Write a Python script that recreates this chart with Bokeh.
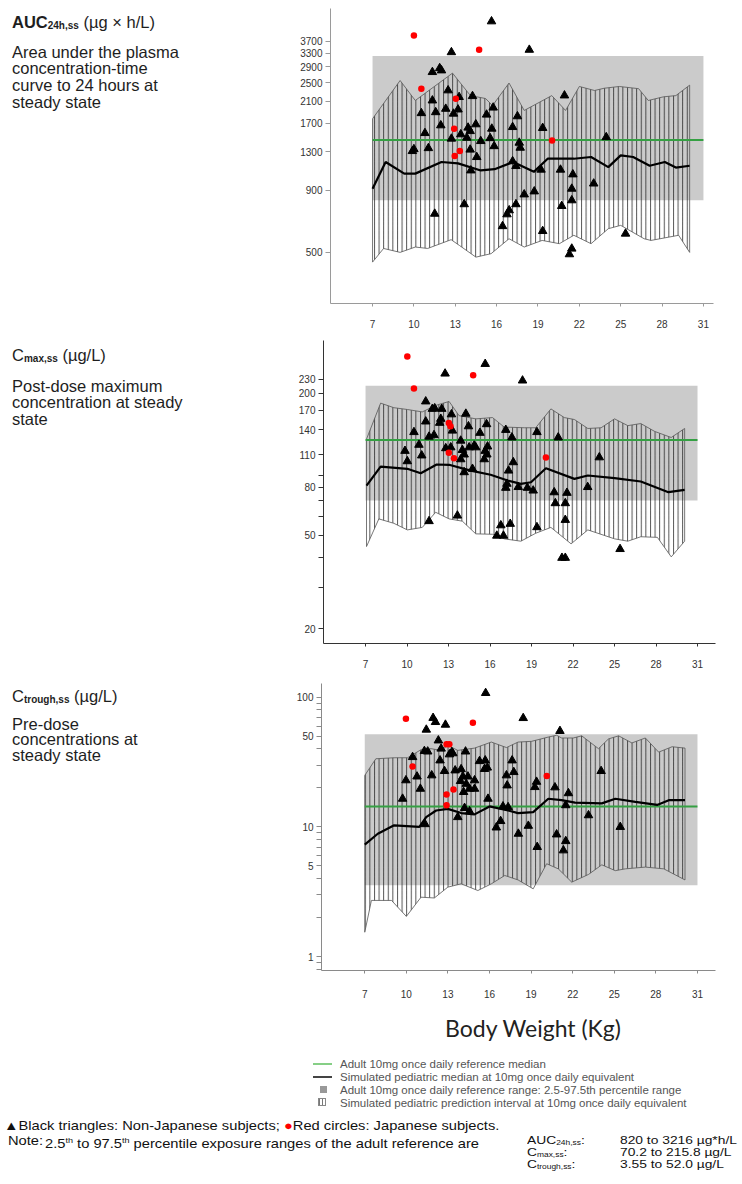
from bokeh.plotting import figure
from bokeh.models import FixedTicker, Div, Range1d, NumeralTickFormatter
from bokeh.layouts import column, row
from bokeh.embed import file_html
from bokeh.resources import INLINE

# ---------------- data ----------------
weight_ticks = [7, 10, 13, 16, 19, 22, 25, 28, 31]
band_x = [7, 31]
x_title = "Body Weight (Kg)"

# adult reference (2.5th, median, 97.5th)
auc_adult = [820, 1450, 3216]
cmax_adult = [70.2, 127, 215.8]
ctrough_adult = [3.55, 14.4, 52.0]

# AUC panel
auc_pi_upper_x = [7.0, 9.0, 10.1, 12.8, 14.1, 15.2, 15.7, 16.9, 18.0, 20.0, 21.0, 22.0, 23.1, 23.8, 24.9, 26.3, 27.0, 28.1, 29.0, 30.0]
auc_pi_upper = [1775, 2550, 2110, 2735, 2210, 2150, 2010, 2490, 1920, 2210, 1920, 2410, 2320, 2370, 2410, 2360, 2110, 2185, 2210, 2440]
auc_pi_lower_x = [7.0, 7.8, 9.0, 10.1, 11.0, 12.7, 13.3, 14.5, 15.6, 16.9, 18.0, 19.3, 20.55, 21.6, 22.85, 24.1, 25.0, 26.7, 27.2, 29.2, 30.0]
auc_pi_lower = [456, 519, 500, 526, 519, 564, 534, 478, 494, 569, 526, 560, 543, 588, 543, 626, 646, 569, 560, 588, 500]
auc_med_x = [7.0, 7.95, 9.3, 10.1, 12.0, 13.2, 14.85, 15.85, 17.2, 18.7, 19.7, 21.6, 22.85, 24.1, 25.0, 25.9, 27.1, 28.2, 29.0, 30.0]
auc_med = [914, 1178, 1055, 1055, 1178, 1163, 1087, 1100, 1178, 1073, 1215, 1215, 1235, 1122, 1254, 1235, 1137, 1178, 1117, 1137]
auc_tri_x = [15.63, 12.72, 18.37, 11.34, 11.87, 12.0, 12.48, 13.28, 14.25, 11.34, 10.54, 11.58, 12.31, 12.87, 13.2, 11.95, 10.8, 11.05, 9.89, 10.0,
             12.72, 13.4, 13.93, 14.08, 14.49, 13.84, 14.08, 14.56, 14.13, 14.85, 15.65, 15.53, 15.82, 15.27, 15.75, 17.51, 17.16, 17.64, 17.16, 17.4,
             19.22, 19.34, 20.92, 20.63, 21.53, 21.45, 21.45, 20.72, 23.04, 23.95, 25.35, 21.45, 21.28, 19.34, 18.73, 18.0, 17.4, 16.91, 16.75, 16.43,
             13.65, 11.51, 17.71]
auc_tri_y = [4467, 3334, 3412, 2762, 2866, 2806, 2322, 2180, 2199, 2110, 1871, 1888, 1950, 1862, 1937, 1667, 1549, 1343, 1306, 1330,
             1469, 1531, 1631, 1578, 1683, 1482, 1324, 1234, 1087, 1436, 1615, 1476, 1368, 1845, 1972, 1816, 1640, 1414, 1186, 1133,
             1095, 1626, 2213, 1095, 1047, 914, 819, 776, 960, 1490, 597, 518, 491, 612, 891, 866, 789, 745, 717, 641,
             789, 721, 1348]
auc_red_x = [10.0, 14.73, 10.54, 13.04, 12.92, 13.33, 12.96, 20.02]
auc_red_y = [3908, 3412, 2360, 2145, 1615, 1306, 1246, 1445]

# Cmax panel
cmax_pi_upper_x = [7.07, 8.09, 9.05, 10.02, 11.1, 12.07, 13.04, 13.76, 14.97, 16.18, 17.02, 18.47, 19.3, 20.4, 21.37, 22.1, 23.07, 24.03, 25.0, 25.96, 26.9, 27.9, 29.1, 30.07]
cmax_pi_upper = [128, 182, 174, 171, 167, 178, 185, 161, 156, 158, 144, 143, 143, 172, 158, 155, 142, 143, 156, 146, 149, 138, 130, 142]
cmax_pi_lower_x = [7.07, 7.96, 9.05, 10.02, 11.1, 12.07, 13.04, 14.0, 14.97, 16.18, 17.02, 18.23, 19.3, 20.4, 21.86, 23.07, 25.0, 25.96, 26.9, 28.1, 29.1, 30.07]
cmax_pi_lower = [44.7, 58.6, 56.1, 52.6, 53.9, 62.5, 58.6, 57.3, 50.6, 50.4, 48.2, 47.1, 50.9, 53.9, 45.9, 52.6, 48.2, 47.1, 49.2, 48.9, 40.4, 47.1]
cmax_med_x = [7.07, 8.09, 10.02, 10.99, 12.14, 13.04, 14.6, 16.04, 17.27, 18.23, 18.96, 20.04, 22.1, 23.07, 25.0, 26.9, 28.9, 30.07]
cmax_med = [81.1, 97.7, 95.7, 91.6, 99.8, 99.5, 94, 90.3, 85.3, 82.6, 83.9, 96.2, 86.7, 89.6, 87.4, 84.5, 76.1, 77.8]
cmax_tri_x = [15.65, 12.75, 18.35, 11.35, 11.83, 12.0, 12.51, 12.44, 11.35, 13.21, 14.25, 13.28, 12.36, 14.44, 15.27, 15.75, 17.14, 17.58, 19.39, 20.93,
              10.5, 10.86, 9.85, 11.06, 10.02, 11.59, 11.95, 12.8, 13.16, 13.88, 14.0, 14.13, 13.88, 14.13, 14.49, 14.85, 14.97, 14.73, 15.65, 15.82,
              15.58, 15.77, 17.68, 17.34, 17.22, 17.14, 18.04, 18.7, 19.12, 20.64, 21.56, 20.72, 21.44, 21.44, 23.06, 23.9, 19.39, 17.46, 16.78, 16.49,
              16.97, 13.64, 11.59, 21.2, 21.44, 25.4]
cmax_tri_y = [267, 243, 227, 185, 172, 173, 172, 156, 152, 163, 164, 139, 150, 145, 136, 148, 140, 130, 137, 130,
              137, 121, 114, 109, 103, 131, 133, 117, 118, 126, 115, 110, 105, 92.5, 118, 120, 118, 95.6, 114, 119,
              105, 110, 102, 94, 82.6, 79.4, 80, 79.4, 77.3, 76, 75.6, 68.3, 68.3, 58, 80, 107, 54, 55.8, 55, 49.7,
              49.7, 60.5, 57.3, 40, 40, 43.6]
cmax_red_x = [10.02, 10.5, 14.78, 13.02, 13.14, 13.02, 13.39, 20.04]
cmax_red_y = [287, 210, 239, 150, 145, 112, 106, 107]

# Ctrough panel
ctr_pi_upper_x = [7.0, 7.8, 9.12, 10.09, 11.06, 11.78, 12.5, 12.99, 13.71, 14.92, 16.13, 17.22, 18.06, 19.03, 20.24, 20.84, 21.2, 22.04, 22.65, 23.86, 24.58, 25.31, 26.27, 27.24, 28.2, 29.17, 30.1]
ctr_pi_upper = [25.0, 33.6, 34.2, 34.2, 39.5, 40.2, 39.0, 42.6, 39.0, 40.6, 45.2, 41.0, 45.2, 45.8, 49.4, 51.0, 48.6, 48.6, 50.5, 40.2, 47.8, 50.5, 44.5, 48.6, 37.8, 41.6, 40.6]
ctr_pi_lower_x = [7.0, 7.48, 8.93, 10.0, 11.06, 12.02, 12.99, 13.95, 15.16, 16.13, 17.1, 18.06, 19.15, 20.12, 20.96, 21.93, 23.14, 24.1, 25.07, 25.8, 27.24, 28.57, 30.1]
ctr_pi_lower = [1.54, 2.71, 2.71, 2.04, 2.87, 2.83, 3.43, 3.64, 3.23, 3.64, 4.22, 3.9, 3.33, 5.2, 4.75, 3.75, 4.3, 5.1, 4.6, 4.75, 4.9, 4.75, 3.9]
ctr_med_x = [7.0, 7.94, 9.12, 10.94, 11.43, 12.15, 12.99, 13.95, 14.92, 16.0, 17.34, 18.06, 19.15, 20.24, 21.2, 22.17, 24.1, 25.07, 26.52, 28.09, 28.93, 30.1]
ctr_med = [7.3, 8.86, 10.3, 10.0, 11.9, 13.4, 13.8, 12.8, 12.5, 14.4, 13.4, 12.8, 13.0, 16.5, 16.1, 15.4, 15.2, 16.5, 15.6, 14.8, 16.1, 16.1]
ctr_tri_x = [15.72, 18.43, 11.93, 12.1, 12.82, 11.44, 21.08, 12.31, 12.51, 11.3, 11.54, 10.45, 12.43, 13.11, 13.35, 14.27, 12.75, 11.83, 10.77, 11.01,
             9.97, 9.73, 13.52, 13.95, 14.08, 13.91, 14.44, 14.32, 14.56, 14.92, 14.13, 14.92, 15.28, 15.69, 15.84, 15.64, 15.89, 17.63, 17.75, 17.22,
             17.27, 17.34, 16.97, 14.2, 14.56, 13.71, 11.35, 16.8, 16.49, 18.8, 18.08, 19.44, 19.27, 19.39, 20.72, 21.69, 21.5, 20.84, 21.5, 21.33,
             23.14, 24.05, 25.43, 13.28]
ctr_tri_y = [108, 69.2, 69.4, 64.5, 61.5, 56.3, 55, 46.5, 40.2, 38.5, 38.2, 34.6, 32.6, 36.3, 37.0, 38.2, 27, 25, 24.5, 19.7,
             22.9, 16.5, 27.3, 27.9, 24.5, 22.6, 24.5, 21.5, 19.7, 19.7, 18.6, 22.9, 32.2, 32.6, 28.7, 28, 16.5, 32.6, 26.5, 25,
             20.9, 14.2, 14.4, 14.0, 13.2, 11.9, 10.5, 11.1, 9.9, 10.2, 8.86, 7.0, 20.3, 22.3, 20.2, 18.2, 14.7, 8.75, 7.77, 6.59,
             12.3, 27, 10.0, 37.8]
ctr_red_x = [9.97, 14.8, 12.9, 13.1, 10.45, 20.13, 13.4, 12.9, 12.9]
ctr_red_y = [68.4, 63.8, 43.4, 43.4, 29.3, 24.7, 19.5, 17.8, 14.7]

# axis ticks
auc_ticks = [500, 900, 1300, 1700, 2100, 2500, 2900, 3300, 3700]
cmax_ticks = [20, 50, 80, 110, 140, 170, 200, 230]
cmax_minor = [30, 40, 60, 70, 90]
ctr_ticks = [1, 5, 10, 50, 100]
ctr_minor = [0.8, 0.9, 2, 3, 4, 6, 7, 8, 9, 20, 30, 40, 60, 70, 80, 90]

FONT = "'Liberation Sans', Arial, sans-serif"
DIV_W = 270
TOTAL_W = 735


def make_panel(xr, yr, fw, fh, bl, bt, bb, ticks, minor, axis_color, adult,
               up_x, up, lo_x, lo, med_x, med, tx, ty, rx, ry, x_standoff=13):
    p = figure(frame_width=fw, frame_height=fh, min_border_left=bl, min_border_right=TOTAL_W - DIV_W - bl - fw,
               min_border_top=bt, min_border_bottom=bb,
               x_range=Range1d(*xr), y_range=Range1d(*yr), y_axis_type="log",
               output_backend="svg", toolbar_location=None)
    p.outline_line_color = None
    p.grid.visible = False
    p.background_fill_color = "white"
    p.border_fill_color = "white"

    # adult reference band
    p.quad(left=band_x[0], right=band_x[1], bottom=adult[0], top=adult[2],
           fill_color="#cbcbcb", line_color=None)
    # simulated prediction interval (hatched)
    p.patch(x=up_x + lo_x[::-1], y=up + lo[::-1], fill_color=None, fill_alpha=0,
            line_color="#555555", line_width=0.8,
            hatch_pattern="|", hatch_scale=4.6, hatch_weight=0.85, hatch_color="#1e1e1e", hatch_alpha=0.9)
    # adult median
    p.line(x=band_x, y=[adult[1], adult[1]], line_color="#35a043", line_width=2)
    # simulated median
    p.line(x=med_x, y=med, line_color="black", line_width=2.2)
    # observed subjects
    p.scatter(x=tx, y=ty, marker="triangle", size=8.5, fill_color="black", line_color="black")
    p.scatter(x=rx, y=ry, marker="circle", size=6.5, fill_color="#ff0000", line_color=None)

    xa = p.xaxis[0]
    xa.ticker = FixedTicker(ticks=weight_ticks)
    xa.axis_line_color = axis_color
    xa.major_tick_line_color = axis_color
    xa.minor_tick_line_color = None
    xa.major_tick_in = 0
    xa.major_tick_out = 3
    xa.major_label_standoff = x_standoff
    xa.major_label_text_font = "Liberation Sans"
    xa.major_label_text_font_size = "10px"
    xa.major_label_text_color = "#333333"

    ya = p.yaxis[0]
    ya.ticker = FixedTicker(ticks=ticks, minor_ticks=minor)
    ya.formatter = NumeralTickFormatter(format="0")
    ya.axis_line_color = axis_color
    ya.major_tick_line_color = axis_color
    ya.minor_tick_line_color = axis_color
    ya.major_tick_in = 0
    ya.major_tick_out = 5
    ya.minor_tick_in = 0
    ya.minor_tick_out = 5
    ya.major_label_standoff = 3
    ya.major_label_text_font = "Liberation Sans"
    ya.major_label_text_font_size = "10px"
    ya.major_label_text_color = "#333333"
    return p


p1 = make_panel((3.95, 31.73), (308, 5047), 383, 295, 60, 8, 37, auc_ticks, [], "#9a9a9a", auc_adult,
                auc_pi_upper_x, auc_pi_upper, auc_pi_lower_x, auc_pi_lower, auc_med_x, auc_med,
                auc_tri_x, auc_tri_y, auc_red_x, auc_red_y)
p2 = make_panel((3.96, 32.3), (17.3, 336), 392, 303, 53, 0, 40, cmax_ticks, cmax_minor, "#333333", cmax_adult,
                cmax_pi_upper_x, cmax_pi_upper, cmax_pi_lower_x, cmax_pi_lower, cmax_med_x, cmax_med,
                cmax_tri_x, cmax_tri_y, cmax_red_x, cmax_red_y)
p3 = make_panel((3.88, 32.3), (0.78, 128), 394, 287, 51, 0, 35, ctr_ticks, ctr_minor, "#8a8a8a", ctrough_adult,
                ctr_pi_upper_x, ctr_pi_upper, ctr_pi_lower_x, ctr_pi_lower, ctr_med_x, ctr_med,
                ctr_tri_x, ctr_tri_y, ctr_red_x, ctr_red_y, x_standoff=16)

SUB = "font-size:10px;vertical-align:-1px;font-weight:bold"


def side_div(title_html, lines, pad, mt, lh, h):
    html = (f"<div style=\"font-family:{FONT};color:#1e1e1e;padding:{pad}px 0 0 12px;\">"
            f"<div style=\"font-size:16.5px;line-height:17px;white-space:nowrap\">{title_html}</div>"
            f"<div style=\"font-size:16.5px;line-height:{lh}px;margin-top:{mt}px;white-space:nowrap\">"
            + "<br>".join(lines) + "</div></div>")
    return Div(text=html, width=DIV_W, height=h, margin=0)


d1 = side_div(f"<b>AUC</b><span style=\"{SUB}\">24h,ss</span> (µg × h/L)",
              ["Area under the plasma", "concentration-time", "curve to 24 hours at", "steady state"], 13.5, 10, 16.7, 340)
d2 = side_div(f"C<span style=\"{SUB}\">max,ss</span> (µg/L)",
              ["Post-dose maximum", "concentration at steady", "state"], 6.5, 11, 16.7, 343)
d3 = side_div(f"C<span style=\"{SUB}\">trough,ss</span> (µg/L)",
              ["Pre-dose", "concentrations at", "steady state"], 4.5, 9, 15.7, 322)

parts = []
# x-axis title of the bottom panel, centred under the weight ticks
parts.append(f"<div style=\"position:absolute;left:383px;top:9px;width:300px;text-align:center;font-family:Lato,sans-serif;"
             f"font-size:23px;line-height:28px;color:#222;white-space:nowrap\">{x_title}</div>")

legend_items = [
    ("<div style=\"position:absolute;left:313px;top:58px;width:19px;height:2px;background:#86cf86\"></div>",
     "Adult 10mg once daily reference median", 52.5),
    ("<div style=\"position:absolute;left:313px;top:71px;width:19px;height:2px;background:#444\"></div>",
     "Simulated pediatric median at 10mg once daily equivalent", 65.5),
    ("<div style=\"position:absolute;left:320px;top:81px;width:7px;height:7px;background:#999\"></div>",
     "Adult 10mg once daily reference range: 2.5-97.5th percentile range", 78.5),
    ("<div style=\"position:absolute;left:318px;top:93px;width:8px;height:8px;border:1px solid #888;"
     "background:repeating-linear-gradient(90deg,#777 0 1px,#fff 1px 3px)\"></div>",
     "Simulated pediatric prediction interval at 10mg once daily equivalent", 91.5),
]
for sym, txt, top in legend_items:
    parts.append(sym)
    parts.append(f"<div style=\"position:absolute;left:340px;top:{top}px;font-size:11.5px;line-height:13px;"
                 f"color:#555;white-space:nowrap\">{txt}</div>")

NS = ("font-size:13px;line-height:13px;color:#111;white-space:nowrap;position:absolute;"
      "transform:scaleX(1.13);transform-origin:0 0")
RS = ("font-size:11.5px;line-height:11.5px;color:#111;white-space:nowrap;position:absolute;"
      "transform:scaleX(1.2);transform-origin:0 0")
SUB2 = "font-size:7px;vertical-align:-1px"
parts.append(f"<div style=\"{NS};left:4px;top:114px\">▲Black triangles: Non-Japanese subjects; "
             f"<span style=\"color:#ff0000\">●</span>Red circles: Japanese subjects.</div>")
parts.append(f"<div style=\"{NS};left:8px;top:129px\">Note:</div>")
parts.append(f"<div style=\"{NS};left:45px;top:129px\">2.5<sup style=\"font-size:8px\">th</sup> to 97.5<sup style=\"font-size:8px\">th</sup> "
             f"percentile exposure ranges of the adult reference are</div>")
right_rows = [("AUC", "24h,ss", "820 to 3216 µg*h/L", 130),
              ("C", "max,ss", "70.2 to 215.8 µg/L", 142),
              ("C", "trough,ss", "3.55 to 52.0 µg/L", 154)]
for main, sub, val, top in right_rows:
    parts.append(f"<div style=\"{RS};left:527px;top:{top}px\">{main}<span style=\"{SUB2}\">{sub}</span>:</div>")
    parts.append(f"<div style=\"{RS};left:620px;top:{top}px\">{val}</div>")

legend_div = Div(text=f"<div style=\"position:relative;width:{TOTAL_W}px;height:175px;font-family:{FONT};\">"
                      + "".join(parts) + "</div>", width=TOTAL_W, height=175, margin=0)

layout = column(row(d1, p1), row(d2, p2), row(d3, p3), legend_div)

open("out.html", "w").write(file_html(layout, INLINE))
